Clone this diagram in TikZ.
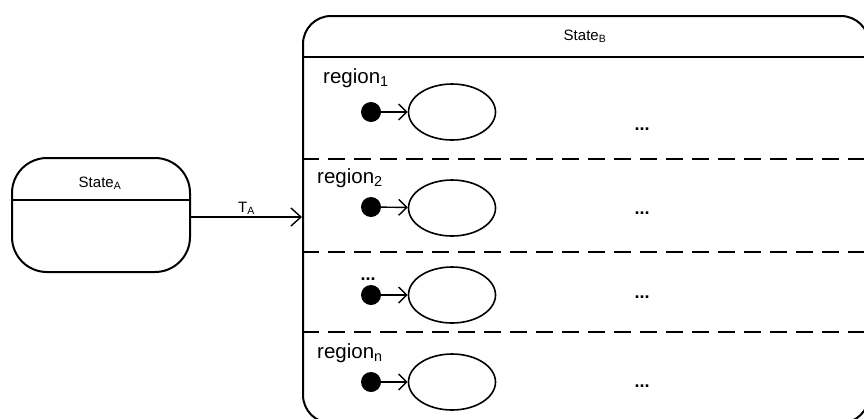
\documentclass[tikz,border=0pt]{standalone}
\usepackage{fontspec}
\setmainfont{Liberation Sans}
\usetikzlibrary{arrows.meta,shapes.geometric}
\begin{document}
\begin{tikzpicture}[x=1pt,y=-1pt,
  statebox/.style={draw, line width=2pt, rounded corners=#1, inner sep=0pt},
  divider/.style={line width=2pt},
  regionsep/.style={line width=2.2pt, dash pattern=on 17pt off 9pt},
  substate/.style={draw, ellipse, line width=1.6pt, minimum width=87pt, minimum height=56pt, inner sep=0pt},
  initdot/.style={circle, fill=black, minimum size=20pt, inner sep=0pt},
  initarrow/.style={line width=1.4pt, -{Straight Barb[length=8pt, width=16pt, line width=1.4pt]}},
  trans/.style={line width=1.4pt, -{Straight Barb[length=10pt, width=18pt, line width=1.4pt]}},
  statelabel/.style={font=\fontsize{15}{17}\selectfont, inner sep=0pt},
  regionlabel/.style={font=\fontsize{20.5}{24}\selectfont, inner sep=0pt, anchor=base west},
  more/.style={font=\fontsize{18}{22}\selectfont\bfseries, inner sep=0pt, anchor=base}
]
\useasboundingbox (0,0) rectangle (864,418);
\clip (0,0) rectangle (864,418);
\fill[white] (0,0) rectangle (864,418);

% simple state A
\node[statebox=35pt, minimum width=178pt, minimum height=114pt] (stateA) at (101,215) {};
\draw[divider] (stateA.west |- 0,200) -- (stateA.east |- 0,200);
\node[statelabel] (nameA) at (100,183) {State\textsubscript{A}};

% composite state B with four orthogonal regions
\node[statebox=28pt, minimum width=566pt, minimum height=407pt] (stateB) at (586,219.5) {};
\draw[divider] (stateB.west |- 0,57) -- (stateB.east |- 0,57);
\node[statelabel] (nameB) at (585,36) {State\textsubscript{B}};
\draw[regionsep] (stateB.west |- 0,159) -- (stateB.east |- 0,159);
\draw[regionsep] (stateB.west |- 0,252) -- (stateB.east |- 0,252);
\draw[regionsep] (stateB.west |- 0,332) -- (stateB.east |- 0,332);

% transition between the states
\draw[trans] (stateA.east |- 0,217) coordinate (tA) -- (stateB.west |- tA)
  node[midway, above=2pt, statelabel] (lblT) {T\textsubscript{A}};

% region 1
\node[regionlabel] (r1) at (323,83) {region\textsubscript{1}};
\node[initdot] (i1) at (371,112) {};
\node[substate] (s1) at (452,112) {};
\draw[initarrow] (i1) -- (s1);
\node[more] (m1) at (642,130) {...};

% region 2
\node[regionlabel] (r2) at (317,183) {region\textsubscript{2}};
\node[initdot] (i2) at (371,207) {};
\node[substate] (s2) at (452,208) {};
\draw[initarrow] (i2) -- (s2);
\node[more] (m2) at (642,214) {...};

% further regions
\node[more] (r3) at (368,280) {...};
\node[initdot] (i3) at (371,295) {};
\node[substate] (s3) at (452,295) {};
\draw[initarrow] (i3) -- (s3);
\node[more] (m3) at (642,298) {...};

% region n
\node[regionlabel] (rn) at (317,358) {region\textsubscript{n}};
\node[initdot] (i4) at (371,382) {};
\node[substate] (s4) at (452,382) {};
\draw[initarrow] (i4) -- (s4);
\node[more] (m4) at (642,387) {...};
\end{tikzpicture}
\end{document}
